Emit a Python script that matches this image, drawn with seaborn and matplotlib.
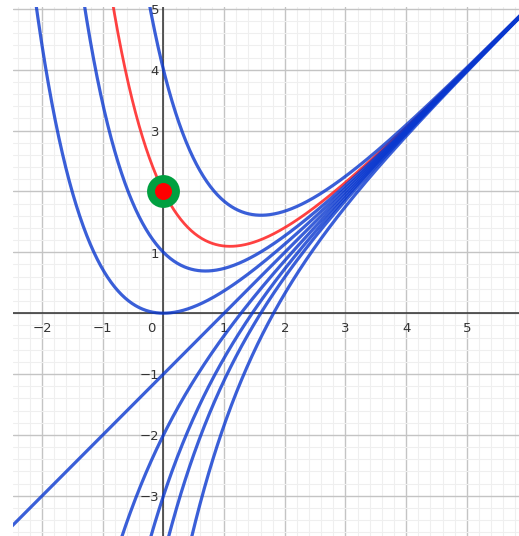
import numpy as np
import pandas as pd
import matplotlib.pyplot as plt
import seaborn as sns
from matplotlib.ticker import MultipleLocator

# solutions y = x - 1 + C*exp(-x), one curve per constant C
constants = [5, 3, 2, 1, 0, -1, -2, -3, -5]
highlight_c = 3
x_grid = np.linspace(-2.6, 6.0, 600)
point_x = [0]
point_y = [2]
x_tick_vals = [-2, -1, 0, 1, 2, 3, 4, 5]
y_tick_vals = [-3, -2, -1, 1, 2, 3, 4, 5]

rows = []
for c in constants:
    y = x_grid - 1 + c * np.exp(-x_grid)
    keep = y < 8
    rows.append(pd.DataFrame({'x': x_grid[keep], 'y': y[keep], 'C': c}))
df = pd.concat(rows, ignore_index=True)

sns.set_style('white')
plt.rcParams['font.family'] = ['DejaVu Sans']

fig = plt.figure(figsize=(5.19, 5.36), dpi=100)
ax = fig.add_axes([13 / 519, 0, 506 / 519, 529 / 536])

ax.set_xlim(-2.48, 5.86)
ax.set_ylim(-3.66, 5.03)

ax.xaxis.set_major_locator(MultipleLocator(1))
ax.yaxis.set_major_locator(MultipleLocator(1))
ax.xaxis.set_minor_locator(MultipleLocator(0.2))
ax.yaxis.set_minor_locator(MultipleLocator(0.2))
ax.grid(which='minor', color='#efefef', linewidth=0.8)
ax.grid(which='major', color='#c4c4c4', linewidth=1.0)
ax.tick_params(which='both', length=0, labelbottom=False, labelleft=False)
for s in ax.spines.values():
    s.set_visible(False)
ax.set_axisbelow(True)

ax.axhline(0, color='#303030', linewidth=1.1, zorder=2)
ax.axvline(0, color='#303030', linewidth=1.1, zorder=2)

blues = df[df['C'] != highlight_c]
reds = df[df['C'] == highlight_c]
sns.lineplot(data=reds, x='x', y='y', estimator=None, sort=False,
             color='#ff2020', alpha=0.85, linewidth=2.0, ax=ax, zorder=3)
sns.lineplot(data=blues, x='x', y='y', units='C', estimator=None, sort=False,
             color='#0937cf', alpha=0.8, linewidth=2.3, ax=ax, zorder=4)

sns.scatterplot(x=point_x, y=point_y, s=560, color='#00a040', linewidth=0, ax=ax, zorder=5)
sns.scatterplot(x=point_x, y=point_y, s=150, color='#ff0000', linewidth=0, ax=ax, zorder=6)

ax.set_xlabel('')
ax.set_ylabel('')

for v in x_tick_vals:
    label = str(v).replace('-', '\u2212')
    xpos = -0.2 if v == 0 else v
    ax.text(xpos, -0.25, label, ha='center', va='center', fontsize=9.5, color='#333333')
for v in y_tick_vals:
    label = str(v).replace('-', '\u2212')
    ax.text(-0.07, v - 0.03, label, ha='right', va='center', fontsize=9.5, color='#333333')

fig.savefig('out.png', dpi=100)
